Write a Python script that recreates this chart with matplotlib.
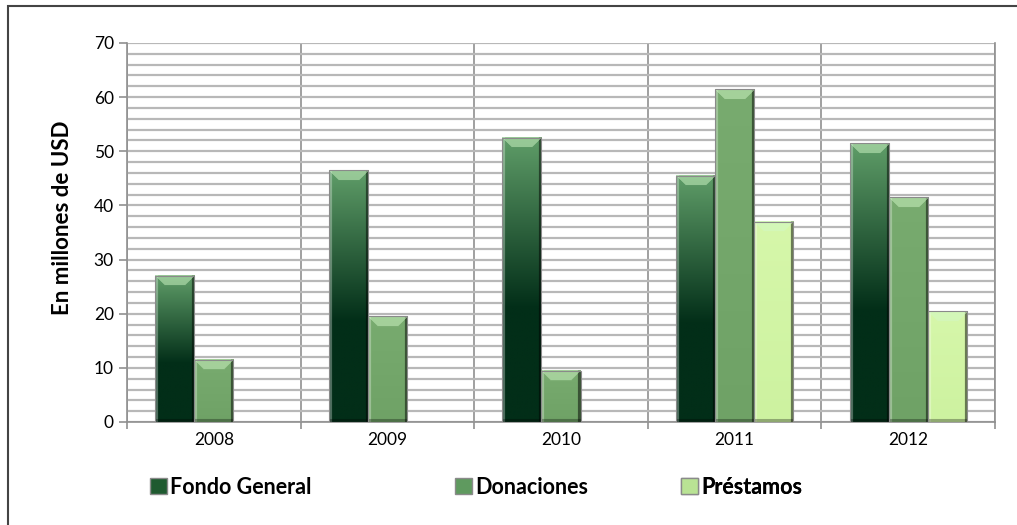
import numpy as np
import matplotlib
matplotlib.use("Agg")
import matplotlib.pyplot as plt
from matplotlib.patches import Patch, Rectangle
from matplotlib.colors import to_rgb

plt.rcParams["font.family"] = ["Lato", "DejaVu Sans"]

years = ["2008", "2009", "2010", "2011", "2012"]
fondo_general = [27.0, 46.5, 52.5, 45.5, 51.5]
donaciones = [11.5, 19.5, 9.5, 61.5, 41.5]
prestamos = [0.0, 0.0, 0.0, 37.0, 20.5]
series_names = ["Fondo General", "Donaciones", "Préstamos"]

# top colour, bottom colour of each series' vertical gradient
grad = [("#5f9d68", "#022e18"), ("#78ab6f", "#6fa266"), ("#d6f7aa", "#cdf2a0")]
legend_col = ["#1f5a30", "#5f9a5f", "#b9e394"]
legend_x = [0.026, 0.378, 0.638]   # axes fraction, left edge of each legend entry


def bevel_image(top, bottom, nx, ny, dark_stop):
    t, b = np.array(to_rgb(top)), np.array(to_rgb(bottom))
    f = np.clip(np.linspace(0, 1, ny) / dark_stop, 0, 1)[:, None]
    img = np.repeat((t * (1 - f) + b * f)[:, None, :], nx, axis=1)
    s = 3
    img[:, :s] = img[:, :s] * 0.7 + 0.3             # left highlight
    img[:, -s:] = img[:, -s:] * 0.5                  # right shade
    img[-s:, :] = img[-s:, :] * 0.7                  # bottom shade
    top_h = 10
    for r in range(min(top_h, ny)):                  # top bevel trapezoid
        img[r, r:nx - r] = img[r, r:nx - r] * 0.5 + 0.5 * np.array([0.82, 0.97, 0.78])
    return np.clip(img, 0, 1)


fig = plt.figure(figsize=(10.17, 5.25), dpi=100)
ax = fig.add_axes([0.1249, 0.1962, 0.8535, 0.7219])

x = np.arange(len(years))
w = 0.225
data = [fondo_general, donaciones, prestamos]
px_per_unit = 5.414
for k, vals in enumerate(data):
    bars = ax.bar(x + (k - 1) * w, vals, w, color=grad[k][1], edgecolor="#8a8a8a",
                  linewidth=0.8, zorder=3)
    for bar, v in zip(bars, vals):
        if v <= 0:
            continue
        ny = max(2, int(v * px_per_unit))
        img = bevel_image(grad[k][0], grad[k][1], 39, ny, 0.6 if k == 0 else 1.0)
        x0, y0 = bar.get_x(), bar.get_y()
        ax.imshow(img, extent=[x0, x0 + bar.get_width(), y0, y0 + bar.get_height()],
                  aspect="auto", zorder=3.5, interpolation="bilinear")
        bar.set_facecolor("none")
        bar.set_zorder(4)

ax.set_xlim(-0.5, len(years) - 0.5)
ax.set_ylim(0, 70)
ax.set_yticks(range(0, 71, 10))
ax.set_yticks(range(0, 71, 2), minor=True)
ax.yaxis.grid(True, which="both", color="#b8b8b8", linewidth=1.6, zorder=0)
ax.set_xticks(x)
ax.set_xticklabels(years, fontsize=12.5)
ax.set_xticks(np.arange(-0.5, len(years)), minor=True)
ax.xaxis.grid(True, which="minor", color="#909090", linewidth=1.2, zorder=0)
ax.tick_params(axis="x", which="major", length=0, pad=7)
ax.tick_params(axis="x", which="minor", length=5, color="#909090", width=1.2)
ax.tick_params(axis="y", which="major", length=6, color="#909090", width=1.2, labelsize=12.5)
ax.tick_params(axis="y", which="minor", length=0)
for sp in ax.spines.values():
    sp.set_color("#909090")
    sp.set_linewidth(1.2)
ax.spines["top"].set_visible(False)
ax.set_ylabel("En millones de USD", fontsize=16, fontweight="bold")
ax.yaxis.set_label_coords(-0.062, 0.538)

for name, col, lx in zip(series_names, legend_col, legend_x):
    leg = ax.legend(handles=[Patch(facecolor=col, edgecolor="#8a8a8a", label=name)],
                    loc="center left", bbox_to_anchor=(lx, -0.172), frameon=False,
                    prop={"weight": "bold", "size": 15.5}, handlelength=0.8,
                    handleheight=0.8, handletextpad=0.15, borderpad=0, borderaxespad=0)
    ax.add_artist(leg)

fig.patches.append(Rectangle((8 / 1017, -0.05), 1.1, 1 - 6 / 525 + 0.05, transform=fig.transFigure,
                             fill=False, edgecolor="#444444", linewidth=1.5))

fig.savefig("out.png", dpi=100)
